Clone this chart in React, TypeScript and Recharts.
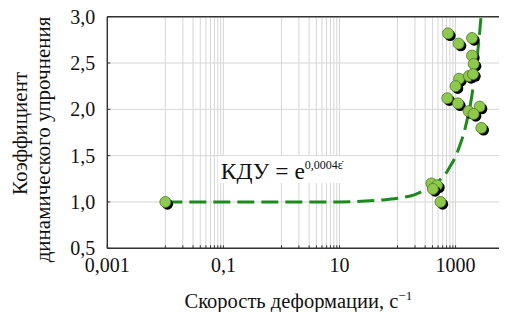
import React from 'react';
import {
  ComposedChart,
  XAxis,
  YAxis,
  CartesianGrid,
  Scatter,
  Line,
  ReferenceArea,
  ReferenceLine,
} from 'recharts';

// Experimental points: strain rate (1/s) and dynamic hardening coefficient
const pointRates = [0.01, 740, 1130, 1920, 1920, 2050, 1150, 1000, 1700, 2000, 720, 1100, 1680, 2600, 2050, 2780, 383, 479, 407, 550];
const pointKdu = [1.0, 2.82, 2.71, 2.77, 2.58, 2.49, 2.33, 2.25, 2.36, 2.38, 2.12, 2.065, 1.98, 2.03, 1.95, 1.8, 1.2, 1.18, 1.14, 1.0];

// Fitted curve
const curveRates = [0.01, 0.1, 1, 10, 50, 100, 200, 300, 400, 500, 600, 700, 800, 1000, 1200, 1400, 1600, 1800, 2000, 2200, 2400, 2600, 2750];
const curveKdu = [1.0, 1.0, 1.0, 1.0, 1.02, 1.04, 1.08, 1.13, 1.17, 1.22, 1.27, 1.32, 1.38, 1.49, 1.62, 1.75, 1.9, 2.05, 2.23, 2.41, 2.61, 2.83, 3.0];

// Axis ticks
const xTicks = [0.001, 0.01, 0.02, 0.03, 0.04, 0.05, 0.06, 0.07, 0.08, 0.09, 0.1, 1, 2, 3, 4, 5, 6, 7, 8, 9, 10, 100, 200, 300, 400, 500, 600, 700, 800, 900, 1000];
const xMajorValues = [0.001, 0.1, 10, 1000];
const xMajorLabels = ['0,001', '0,1', '10', '1000'];
const yTicks = [0.5, 1, 1.5, 2, 2.5, 3];
const yTickLabels = ['0,5', '1,0', '1,5', '2,0', '2,5', '3,0'];

const pointData = pointRates.map((x, i) => ({ x, y: pointKdu[i] }));
const curveData = curveRates.map((x, i) => ({ x, y: curveKdu[i] }));

const FONT = "'Liberation Serif', 'Times New Roman', Times, serif";
const AXIS = '#333333';
const TXT = { fontFamily: FONT };

const XTick = (props: any) => {
  const { x, y, payload } = props;
  const idx = xMajorValues.findIndex((v) => Math.abs(v - payload.value) < v * 1e-6);
  return (
    <g>
      <line x1={x} x2={x} y1={y} y2={y - 3} stroke={AXIS} strokeWidth={1} />
      {idx >= 0 && (
        <text x={x} y={y + 23.5} textAnchor="middle" fontSize={20} style={TXT} fill="#111">
          {xMajorLabels[idx]}
        </text>
      )}
    </g>
  );
};

const YTick = (props: any) => {
  const { x, y, payload } = props;
  const idx = yTicks.findIndex((v) => Math.abs(v - payload.value) < 1e-6);
  return (
    <g>
      <line x1={x} x2={x + 3} y1={y} y2={y} stroke={AXIS} strokeWidth={1} />
      <text x={x - 12} y={y + 7} textAnchor="end" fontSize={20} style={TXT} fill="#111">
        {idx >= 0 ? yTickLabels[idx] : ''}
      </text>
    </g>
  );
};

const XTitle = (props: any) => {
  const vb = props.viewBox || { x: 0, y: 0 };
  return (
    <text x={vb.x + 191} y={vb.y + 59.7} textAnchor="middle" fontSize={20.5} style={TXT} fill="#111">
      Скорость деформации, с
      <tspan dy={-8} fontSize={13}>−1</tspan>
    </text>
  );
};

const YTitle = (props: any) => {
  const vb = props.viewBox || { x: 0, y: 0, height: 0 };
  const cy = vb.y + vb.height / 2 + 1;
  return (
    <g>
      <text
        x={26.5}
        y={cy}
        transform={`rotate(-90 26.5 ${cy})`}
        textAnchor="middle"
        fontSize={21}
        style={TXT}
        fill="#111"
      >
        Коэффициент
      </text>
      <text
        x={49.5}
        y={cy + 6}
        transform={`rotate(-90 49.5 ${cy + 6})`}
        textAnchor="middle"
        fontSize={21}
        style={TXT}
        fill="#111"
      >
        динамического упрочнения
      </text>
    </g>
  );
};

const Annotation = (props: any) => {
  const vb = props.viewBox || { x: 0, y: 0, width: 0, height: 0 };
  return (
    <text x={vb.x + 3} y={vb.y + vb.height - 3.5} fontSize={23.5} style={TXT} fill="#111">
      КДУ = e
      <tspan dy={-10} fontSize={12}>0,0004ε̇</tspan>
    </text>
  );
};

const Dot = (props: any) => {
  const { cx, cy } = props;
  if (cx == null || cy == null) return null;
  return (
    <g>
      <circle cx={cx + 2.2} cy={cy + 2.2} r={5.5} fill="#000" />
      <circle cx={cx} cy={cy} r={5.5} fill="#8ec84c" stroke="#4d7a28" strokeWidth={0.8} />
    </g>
  );
};

export default function App() {
  return (
    <div style={{ margin: '-8px 0 0 -8px', width: 507, height: 312 }}>
      <ComposedChart
        width={507}
        height={312}
        margin={{ top: 16.7, right: 0, bottom: 0, left: 0 }}
        style={{ fontFamily: FONT }}
      >
        <CartesianGrid stroke="#d6d6d6" strokeWidth={1} />
        <XAxis
          dataKey="x"
          type="number"
          scale="log"
          domain={[0.001, 7700]}
          ticks={xTicks}
          interval={0}
          allowDataOverflow
          height={63.7}
          tickSize={0}
          tickMargin={0}
          tick={<XTick />}
          axisLine={{ stroke: AXIS, strokeWidth: 1.4 }}
          label={<XTitle />}
        />
        <YAxis
          dataKey="y"
          type="number"
          domain={[0.5, 3]}
          ticks={yTicks}
          interval={0}
          allowDataOverflow
          width={107.3}
          tickSize={0}
          tickMargin={0}
          tick={<YTick />}
          axisLine={{ stroke: AXIS, strokeWidth: 1.4 }}
          label={<YTitle />}
        />
        <ReferenceLine y={3} stroke={AXIS} strokeWidth={1.4} />
        <ReferenceArea
          x1={0.08}
          x2={10.3}
          y1={1.205}
          y2={1.497}
          fill="#ffffff"
          fillOpacity={1}
          stroke="none"
          label={<Annotation />}
        />
        <Scatter data={pointData} dataKey="y" shape={<Dot />} isAnimationActive={false} />
        <Line
          data={curveData}
          dataKey="y"
          type="monotone"
          stroke="#1e8a1e"
          strokeWidth={3}
          strokeDasharray="17 7"
          dot={false}
          activeDot={false}
          isAnimationActive={false}
        />
      </ComposedChart>
    </div>
  );
}
